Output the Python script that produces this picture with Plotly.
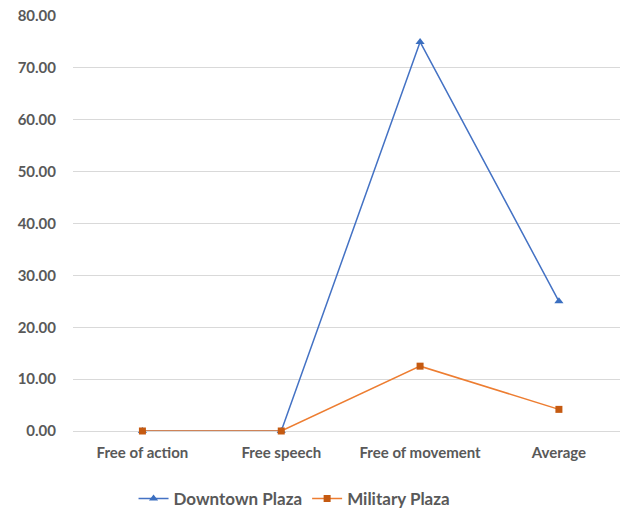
import plotly.graph_objects as go

categories = ["Free of action", "Free speech", "Free of movement", "Average"]
downtown_plaza = [0.0, 0.0, 75.0, 25.0]
military_plaza = [0.0, 0.0, 12.5, 4.17]
y_ticks = [0, 10, 20, 30, 40, 50, 60, 70, 80]

FONT = "Lato, Carlito, Calibri, sans-serif"
GREY = "#595959"

fig = go.Figure()
fig.add_trace(go.Scatter(
    x=categories, y=downtown_plaza, name="Downtown Plaza", mode="lines+markers",
    line=dict(color="#4472C4", width=1.5),
    marker=dict(symbol="triangle-up", size=8, color="#3B6FC0"),
    cliponaxis=False,
))
fig.add_trace(go.Scatter(
    x=categories, y=military_plaza, name="Military Plaza", mode="lines+markers",
    line=dict(color="#ED7D31", width=1.5),
    marker=dict(symbol="square", size=7, color="#C55A11"),
    cliponaxis=False,
))

fig.update_layout(
    width=620, height=517,
    margin=dict(l=73, r=0, t=16, b=86),
    paper_bgcolor="white", plot_bgcolor="white",
    font=dict(family=FONT, color=GREY),
    showlegend=True,
    legend=dict(
        orientation="h", x=0.405, xanchor="center", y=-0.207, yanchor="bottom",
        font=dict(family=FONT, size=17, color=GREY, weight="bold"),
        itemwidth=30, tracegroupgap=0,
    ),
    xaxis=dict(
        type="category", range=[-0.5, 3.44],
        showgrid=False, showline=False, zeroline=False, ticks="",
        tickfont=dict(family=FONT, size=15, color=GREY, weight="bold"),
        ticklabelstandoff=11,
    ),
    yaxis=dict(
        range=[0, 80], tickvals=y_ticks, tickformat=".2f",
        showgrid=True, gridcolor="#D9D9D9", gridwidth=1,
        zeroline=True, zerolinecolor="#D9D9D9", zerolinewidth=1,
        showline=False, ticks="",
        tickfont=dict(family=FONT, size=15, color=GREY, weight="bold"),
        ticklabelstandoff=16,
    ),
)

fig.write_html("out.html")
